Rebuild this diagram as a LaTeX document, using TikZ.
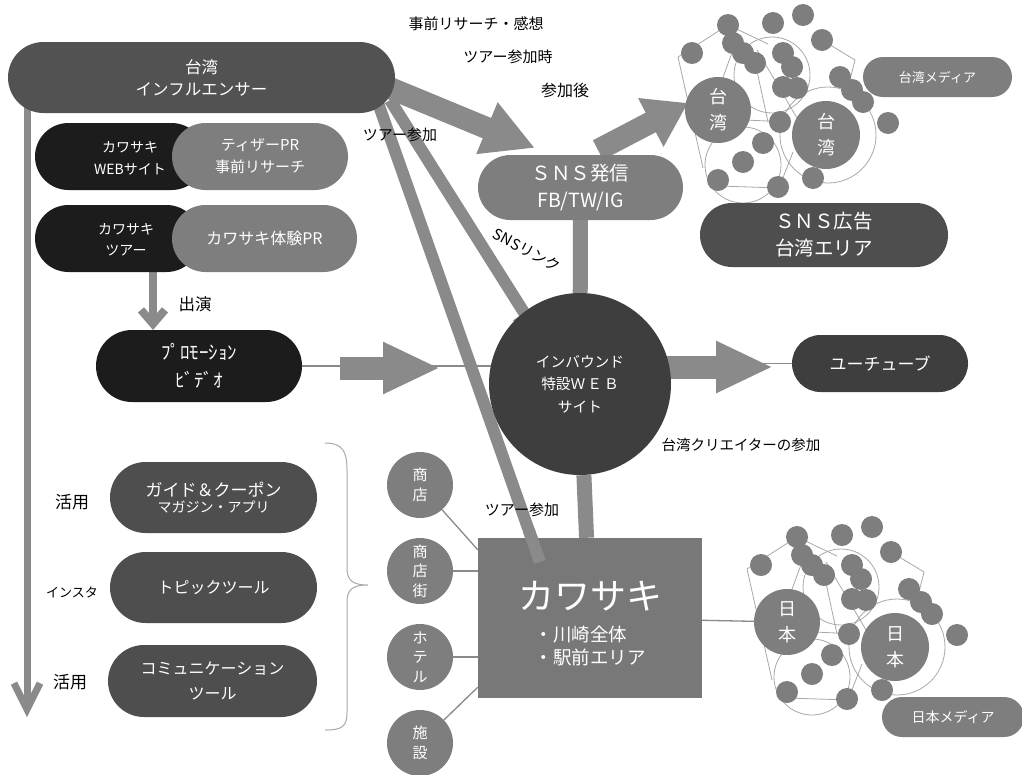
\documentclass[tikz,border=0pt]{standalone}
\usepackage{fontspec}
\setmainfont{Noto Sans CJK JP}
\usetikzlibrary{arrows.meta,shapes.misc,backgrounds}
\definecolor{cInfl}{HTML}{525252}
\definecolor{cBlack}{HTML}{1C1C1C}
\definecolor{cMid}{HTML}{7E7E7E}
\definecolor{cBox}{HTML}{787878}
\definecolor{cArr}{HTML}{8A8A8A}
\definecolor{cDark}{HTML}{4E4E4E}
\definecolor{cDeep}{HTML}{3E3E3E}
\definecolor{cNet}{HTML}{A8A8A8}
\newcommand{\myfs}[2]{\fontsize{#1}{#2}\selectfont}
\tikzset{
  pill/.style={rounded rectangle, inner sep=0pt, text=white, align=center},
  disc/.style={circle, inner sep=0pt, text=white, align=center},
  lbl/.style={text=black, inner sep=1pt, font=\myfs{15}{18}},
  wtxt/.style={text=white, align=center, inner sep=0pt},
  netline/.style={draw=cNet, line width=0.8pt},
  bar/.style={draw=cArr, line width=15pt},
  thinln/.style={draw=cArr, line width=1.3pt},
  sbar/.style={draw=cArr, line width=12pt},
  blockarrow/.style={draw=cArr, line width=23pt, -{Triangle[length=57pt,width=48pt]}},
}
\newcommand{\netgraph}[5]{%
\begin{scope}[shift={(#2,#3)}]
  \draw[netline] (678,57) -- (728,25) -- (768,44);
  \draw[netline] (822,40) -- (855,60) -- (848,88);
  \draw[netline] (678,57) -- (703,168);
  \draw[netline] (719,186) -- (779,188) -- (793,152);
  \draw[netline] (745,120) -- (790,122);
  \draw[netline] (752,48) -- (768,122);
  \draw[netline] (757,50) -- (797,118);
  \draw[netline] (733,50) -- (722,80);
  \draw[netline] (772,75) circle[radius=38pt];
  \draw[netline] (743,165) circle[radius=38pt];
  \draw[netline] (828,135) circle[radius=48pt];
  \foreach \px/\py in {728/25,773/23,803/15,822/40,692/53,733/43,743/53,755/63,783/53,792/67,783/87,797/88,840/77,852/90,863/102,888/123,780/122,763/143,743/162,718/180,778/187,813/178}
    \fill[cMid] (\px,\py) circle[radius=11pt];
  \node[disc, fill=cMid, minimum size=66pt, font=\myfs{18}{26}] (#1a) at (718,110) {#4\\#5};
  \node[disc, fill=cMid, minimum size=68pt, font=\myfs{18}{26}] (#1b) at (826,135) {#4\\#5};
\end{scope}}
\begin{document}
\begin{tikzpicture}[x=1pt,y=-1pt]
\useasboundingbox (0,0) rectangle (1022,774);

% ---- networks
\netgraph{tw}{0}{0}{台}{湾}
\netgraph{jp}{69}{512}{日}{本}

% ---- main nodes
\node[pill, fill=cInfl, minimum width=387pt, minimum height=71pt, font=\myfs{16.5}{22}] (infl) at (201.5,77.5) {台湾\\インフルエンサー};

\node[pill, fill=cBlack, minimum width=170pt, minimum height=67pt] (kweb) at (120,156.5) {};
\node[wtxt, font=\myfs{14}{22}] (kwebt) at (130,158) {カワサキ\\WEBサイト};
\node[pill, fill=cMid, minimum width=176pt, minimum height=67pt, font=\myfs{15}{22}] (teaser) at (260,156.5) {ティザーPR\\事前リサーチ};

\node[pill, fill=cBlack, minimum width=165pt, minimum height=67pt] (ktour) at (117.5,238.5) {};
\node[wtxt, font=\myfs{14}{21}] (ktourt) at (126,240) {カワサキ\\ツアー};
\node[pill, fill=cMid, minimum width=185pt, minimum height=67pt, font=\myfs{16}{20}] (taiken) at (264.5,238.5) {カワサキ体験PR};

\node[pill, fill=cBlack, minimum width=206pt, minimum height=72pt, font=\myfs{19}{28}] (promo) at (199,366) {ﾌﾟﾛﾓｰｼｮﾝ\\ﾋﾞﾃﾞｵ};

\node[pill, fill=cDark, minimum width=207pt, minimum height=71pt] (guide) at (213.5,497.5) {{\myfs{17}{22}ガイド＆クーポン}\\[3pt]{\myfs{14}{21}マガジン・アプリ}};
\node[pill, fill=cDark, minimum width=207pt, minimum height=71pt, font=\myfs{16}{20}] (topic) at (213.5,587.5) {トピックツール};
\node[pill, fill=cDark, minimum width=209pt, minimum height=72pt, font=\myfs{16}{25}] (comm) at (212.5,681) {コミュニケーション\\ツール};

\node[disc, fill=cDeep, minimum size=182pt, font=\myfs{14.7}{22.5}] (web) at (580,384) {インバウンド\\特設Ｗ\hspace{2pt}Ｅ\hspace{2pt}Ｂ\\サイト};
\node[pill, fill=cMid, minimum width=205pt, minimum height=65pt, font=\myfs{19.5}{27}] (sns) at (580.5,187.5) {ＳＮＳ発信\\FB/TW/IG};
\node[pill, fill=cDark, minimum width=248pt, minimum height=64pt, font=\myfs{19.5}{27}] (snsad) at (824,235) {ＳＮＳ広告\\台湾エリア};
\node[pill, fill=cDeep, minimum width=176pt, minimum height=57pt, font=\myfs{17}{20}] (yt) at (880,363.5) {ユーチューブ};
\node[pill, fill=cMid, minimum width=149pt, minimum height=40pt, font=\myfs{13}{16}] (twm) at (937.5,77) {台湾メディア};

\node[rectangle, fill=cBox, minimum width=224pt, minimum height=160pt, inner sep=0pt] (box) at (590,618) {};
\node[wtxt] (boxt) at (590,626)
  {{\myfs{36}{40}カワサキ}\\[14pt]{\myfs{18.5}{22}\begin{tabular}{@{}l@{}}・川崎全体\\・駅前エリア\end{tabular}}};

\node[pill, fill=cMid, minimum width=142pt, minimum height=40pt, font=\myfs{14}{16}] (jpm) at (953,717) {日本メディア};

\foreach \nm/\yy/\tx in {s1/485/{商\\店}, s2/571/{商\\店\\街}, s3/657/{ホ\\テ\\ル}, s4/743/{施\\設}}
  \node[disc, fill=cMid, minimum size=66pt, font=\myfs{15}{19.5}] (\nm) at (420,\yy) {\tx};

% ---- coordinates for free ends
\coordinate (arL) at (27,717);
\coordinate (arLs) at (27,105);
\coordinate (aS1) at (385,86);
\coordinate (aS2) at (535,148);
\coordinate (lnkS) at (390,100);
\coordinate (lnkE) at (535,330);
\coordinate (trS) at (377,100);
\coordinate (trM) at (528.7,530);
\coordinate (trE) at (540,562);
\coordinate (snsA) at (598,150);
\coordinate (snsB) at (688,103);
\coordinate (shS) at (153,265);
\coordinate (shE) at (153,330);
\coordinate (baS) at (340,368);
\coordinate (baE) at (440,368);
\coordinate (ybS) at (650,367);
\coordinate (ybE) at (773,367);

% ---- overlay part of tour line on box
\draw[sbar] (trM) -- (trE);

% ---- labels
\node[lbl] (l1) at (476,24) {事前リサーチ・感想};
\node[lbl] (l2) at (508,57) {ツアー参加時};
\node[lbl, font=\myfs{16}{18}] (l3) at (565,90) {参加後};
\node[lbl] (l4) at (400,135) {ツアー参加};
\node[lbl, rotate=-28] (l5) at (527,250) {SNSリンク};
\node[lbl] (l6) at (522,510) {ツアー参加};
\node[lbl, font=\myfs{14.5}{18}] (l7) at (741,445) {台湾クリエイターの参加};
\node[lbl, font=\myfs{16.5}{18}] (l8) at (195,304) {出演};
\node[lbl, font=\myfs{17}{18}] (l9) at (72,502) {活用};
\node[lbl, font=\myfs{13}{18}] (l10) at (72,592) {インスタ};
\node[lbl, font=\myfs{17}{18}] (l11) at (70,682) {活用};

% ---- brace
\draw[draw=cNet, line width=1pt] (325,443) .. controls (343,443) and (347,452) .. (347,470) -- (347,568)
  .. controls (347,580) and (352,585) .. (368,585) .. controls (352,585) and (347,590) .. (347,602)
  -- (347,712) .. controls (347,726) and (343,730) .. (325,730);

% ---- background connectors
\begin{scope}[on background layer]
  \fill[white] (0,0) rectangle (1022,774);
  \draw[draw=cArr, line width=7pt, -{Straight Barb[length=26pt,width=26pt]}] (arLs) -- (arL);
  \draw[draw=cArr, line width=22pt, -{Triangle[length=52pt,width=52pt]}] (aS1) -- (aS2);
  \draw[draw=cArr, line width=12pt, -{Triangle[length=20pt,width=26pt]}] (lnkS) -- (lnkE);
  \draw[sbar] (trS) -- (trE);
  \draw[draw=cArr, line width=22pt, -{Triangle[length=42pt,width=52pt]}] (snsA) -- (snsB);
  \draw[bar] (sns) -- (web);
  \draw[bar] (web) -- (box);
  \draw[draw=cArr, line width=8pt, -{Straight Barb[length=14pt,width=24pt]}] (shS) -- (shE);
  \draw[thinln] (promo.east) -- (promo.east -| web.center);
  \draw[blockarrow] (baS) -- (baE);
  \draw[blockarrow] (ybS) -- (ybE);
  \draw[thinln] (yt.west) -- (yt.west -| web.center);
  \draw[thinln] (s1) -- ([yshift=-12pt]box.north west);
  \draw[thinln] (s2) -- (s2 -| box.west);
  \draw[thinln] (s3) -- (s3 -| box.west);
  \draw[thinln] (s4) -- ([yshift=11pt]box.south west);
  \draw[thinln] (box) -- (jpa);
\end{scope}
\end{tikzpicture}
\end{document}
